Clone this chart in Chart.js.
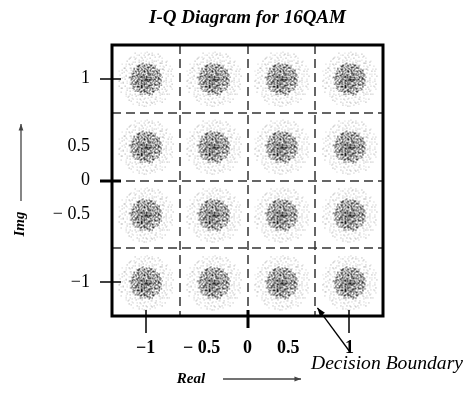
<!DOCTYPE html>
<html>
<head>
<meta charset="utf-8">
<script src="https://cdn.jsdelivr.net/npm/chart.js@4"></script>
<style>
  html, body { margin: 0; padding: 0; background: #fff; }
</style>
</head>
<body>
<canvas id="chart-iq" width="464" height="395"></canvas>
<script>
// 16QAM constellation levels (in-phase / quadrature)
var iLevels = [-1, -1/3, 1/3, 1];
var qLevels = [1, 1/3, -1/3, -1];
// decision boundaries between symbols
var boundaries = [-2/3, 0, 2/3];
// tick labels as printed on the figure
var xTickValues = [-1, -0.45, 0, 0.4, 1];
var xTickLabels = ['\u22121', '\u2212 0.5', '0', '0.5', '1'];
var yTickValues = [1, 1/3, 0, -1/3, -1];
var yTickLabels = ['1', '0.5', '0', '\u2212 0.5', '\u22121'];
// short tick marks crossing the frame
var xMarks = [-1, 0, 1];
var yMarks = [1, 0, -1];

var SERIF = '"Liberation Serif", "DejaVu Serif", serif';

// radical inverse (Halton) - deterministic sampling for the noise-cloud marker texture
function halton(i, b) {
  var f = 1, r = 0;
  while (i > 0) { f = f / b; r += f * (i % b); i = Math.floor(i / b); }
  return r;
}

// marker sprite: light halo of noise + dark speckled core
function makeCloud() {
  var c = document.createElement('canvas');
  c.width = 64; c.height = 64;
  var g = c.getContext('2d');
  var i, r, t, d;
  for (i = 1; i <= 320; i++) {
    r = 28 * Math.pow(halton(i, 2), 0.55);
    t = 2 * Math.PI * halton(i, 3);
    d = Math.floor(150 + 60 * halton(i, 5));
    g.fillStyle = 'rgb(' + d + ',' + d + ',' + d + ')';
    g.fillRect(Math.round(32 + r * Math.cos(t)), Math.round(32 + r * Math.sin(t)), 1, 1);
  }
  for (i = 1; i <= 360; i++) {
    r = 16 * Math.pow(halton(i + 700, 2), 0.6);
    t = 2 * Math.PI * halton(i + 700, 3);
    d = Math.floor(90 * halton(i + 700, 5));
    g.fillStyle = 'rgb(' + d + ',' + d + ',' + d + ')';
    g.fillRect(Math.round(32 + r * Math.cos(t)), Math.round(32 + r * Math.sin(t)), 1, 1);
  }
  return c;
}

var points = [];
qLevels.forEach(function(q) {
  iLevels.forEach(function(i) { points.push({ x: i, y: q }); });
});

function arrow(ctx, x1, y1, x2, y2, head) {
  var a = Math.atan2(y2 - y1, x2 - x1);
  ctx.beginPath();
  ctx.moveTo(x1, y1);
  ctx.lineTo(x2, y2);
  ctx.stroke();
  ctx.beginPath();
  ctx.moveTo(x2, y2);
  ctx.lineTo(x2 - head * Math.cos(a - 0.35), y2 - head * Math.sin(a - 0.35));
  ctx.lineTo(x2 - head * Math.cos(a + 0.35), y2 - head * Math.sin(a + 0.35));
  ctx.closePath();
  ctx.fill();
}

var iqDecor = {
  id: 'iqDecor',
  beforeDatasetsDraw: function(chart) {
    var ctx = chart.ctx, a = chart.chartArea;
    var xs = chart.scales.x, ys = chart.scales.y;
    ctx.save();
    ctx.strokeStyle = '#333';
    ctx.lineWidth = 1.5;
    ctx.setLineDash([9, 5]);
    boundaries.forEach(function(b) {
      var px = Math.round(xs.getPixelForValue(b));
      ctx.beginPath(); ctx.moveTo(px, a.top); ctx.lineTo(px, a.bottom); ctx.stroke();
      var py = Math.round(ys.getPixelForValue(b));
      ctx.beginPath(); ctx.moveTo(a.left, py); ctx.lineTo(a.right, py); ctx.stroke();
    });
    ctx.restore();
  },
  afterDraw: function(chart) {
    var ctx = chart.ctx, a = chart.chartArea;
    var xs = chart.scales.x, ys = chart.scales.y;
    ctx.save();
    // frame
    ctx.strokeStyle = '#000';
    ctx.lineWidth = 3;
    ctx.strokeRect(a.left, a.top, a.right - a.left, a.bottom - a.top);
    // tick marks
    yMarks.forEach(function(v) {
      var py = Math.round(ys.getPixelForValue(v));
      ctx.lineWidth = v === 0 ? 3 : 1.5;
      ctx.beginPath(); ctx.moveTo(a.left - 12, py); ctx.lineTo(a.left + 9, py); ctx.stroke();
    });
    xMarks.forEach(function(v) {
      var px = Math.round(xs.getPixelForValue(v));
      ctx.lineWidth = v === 0 ? 3 : 1.5;
      ctx.beginPath(); ctx.moveTo(px, a.bottom - 6); ctx.lineTo(px, a.bottom + (v === 0 ? 12 : 17)); ctx.stroke();
    });

    // axis names with arrows
    ctx.fillStyle = '#000';
    ctx.font = 'italic bold 15px ' + SERIF;
    ctx.textAlign = 'center';
    ctx.textBaseline = 'middle';
    ctx.fillText('Real', 191, 379);
    ctx.save();
    ctx.translate(20, 224);
    ctx.rotate(-Math.PI / 2);
    ctx.fillText('Img', 0, 0);
    ctx.restore();
    ctx.strokeStyle = '#444';
    ctx.fillStyle = '#444';
    ctx.lineWidth = 1.3;
    arrow(ctx, 223, 379, 301, 379, 7);
    arrow(ctx, 21, 201, 21, 124, 7);

    // decision boundary annotation
    var tipX = xs.getPixelForValue(boundaries[2]) + 2;
    var tipY = ys.getPixelForValue(-1.25);
    ctx.strokeStyle = '#000';
    ctx.fillStyle = '#000';
    ctx.lineWidth = 1.3;
    arrow(ctx, 350, 352, tipX, tipY, 9);
    ctx.font = 'italic 18px ' + SERIF;
    ctx.textAlign = 'left';
    ctx.textBaseline = 'alphabetic';
    var txt = 'Decision Boundary';
    var w = ctx.measureText(txt).width;
    ctx.translate(311, 369);
    ctx.scale(152 / w, 1);
    ctx.fillText(txt, 0, 0);
    ctx.restore();
  }
};

var ctx = document.getElementById('chart-iq');
var chart = new Chart(ctx, {
  type: 'scatter',
  data: {
    datasets: [{
      label: '16QAM',
      data: points,
      pointStyle: makeCloud(),
      pointRadius: 20,
      pointHoverRadius: 20
    }]
  },
  options: {
    responsive: false,
    animation: false,
    events: [],
    layout: { padding: { left: 0, right: 81, top: 0, bottom: 0 } },
    plugins: {
      legend: { display: false },
      tooltip: { enabled: false },
      title: {
        display: true,
        fullSize: false,
        text: 'I-Q Diagram for 16QAM',
        color: '#000',
        font: { family: SERIF, size: 19, weight: 'bold', style: 'italic', lineHeight: 1.2 },
        padding: { top: 7, bottom: 15.2 }
      }
    },
    scales: {
      x: {
        type: 'linear',
        min: -1.33, max: 1.33,
        grid: { display: false, drawTicks: false },
        border: { display: false },
        afterBuildTicks: function(s) { s.ticks = xTickValues.map(function(v) { return { value: v }; }); },
        afterFit: function(s) { s.height = 79; },
        ticks: {
          padding: 22,
          maxRotation: 0,
          autoSkip: false,
          color: '#000',
          font: { family: SERIF, size: 18, weight: 'bold' },
          callback: function(v, i) { return xTickLabels[i]; }
        }
      },
      y: {
        type: 'linear',
        min: -1.33, max: 1.33,
        grid: { display: false, drawTicks: false },
        border: { display: false },
        afterBuildTicks: function(s) { s.ticks = yTickValues.map(function(v) { return { value: v }; }); },
        afterFit: function(s) { s.width = 112; },
        ticks: {
          padding: 22,
          autoSkip: false,
          color: '#000',
          font: { family: SERIF, size: 18 },
          callback: function(v, i) { return yTickLabels[i]; }
        }
      }
    }
  },
  plugins: [iqDecor]
});
</script>
</body>
</html>
